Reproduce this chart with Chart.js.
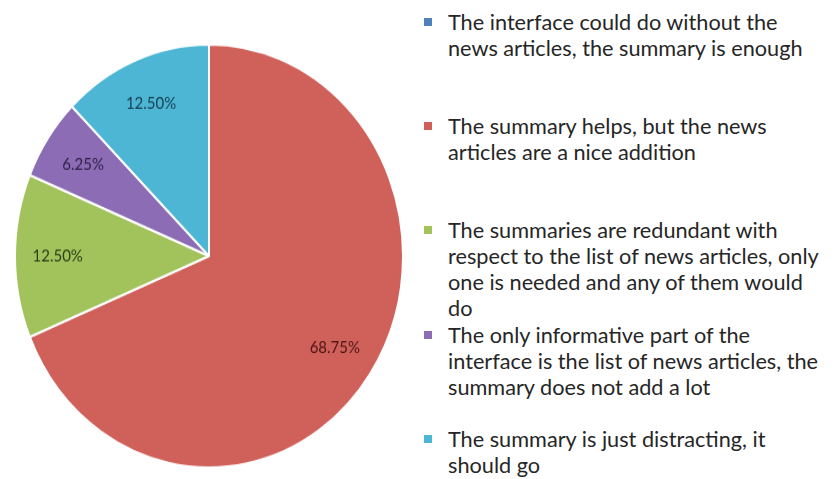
<!DOCTYPE html>
<html>
<head>
<meta charset="utf-8">
<script src="https://cdn.jsdelivr.net/npm/chart.js@4"></script>
<style>
  body { margin: 0; background: #fff; width: 835px; height: 479px; overflow: hidden; position: relative; font-family: Lato, sans-serif; }
  /* the reference picture is a bit stretched vertically, so the pie is too */
  #pieBox { position: absolute; left: 0; top: 61px; width: 418px; height: 390px; transform: scaleY(1.09); transform-origin: 50% 50%; }
  .legItem { position: absolute; left: 448px; width: 387px; font-size: 21.7px; line-height: 26px; color: #262626; white-space: pre-line; }
  .legItem .mk { position: absolute; left: -24px; top: 9px; width: 8px; height: 8px; }
</style>
</head>
<body>
<div id="pieBox"><canvas id="pie"></canvas></div>
<div id="legend"></div>
<script>
const categories = [
  "The interface could do without the\nnews articles, the summary is enough",
  "The summary helps, but the news\narticles are a nice addition",
  "The summaries are redundant with\nrespect to the list of news articles, only\none is needed and any of them would\ndo",
  "The only informative part of the\ninterface is the list of news articles, the\nsummary does not add a lot",
  "The summary is just distracting, it\nshould go"
];
const percentages = [0, 68.75, 12.5, 6.25, 12.5];
const sliceColors = ["#4F81BD", "#D0605A", "#A2C35C", "#8B6CB5", "#4CB6D4"];
const labelColors = ["#1f3350", "#4a1512", "#2c3e14", "#2f2248", "#153f50"];

// legend, Excel style: entries spaced evenly, text allowed to overflow
const legend = document.getElementById("legend");
categories.forEach((c, i) => {
  const d = document.createElement("div");
  d.className = "legItem";
  d.style.top = (9 + i * 104.2) + "px";
  const mk = document.createElement("span");
  mk.className = "mk";
  mk.style.background = sliceColors[i];
  d.appendChild(mk);
  d.appendChild(document.createTextNode(c));
  legend.appendChild(d);
});

// draws the percentage inside each slice
const sliceLabels = {
  id: "sliceLabels",
  afterDatasetsDraw(chart) {
    const ctx = chart.ctx;
    const arcs = chart.getDatasetMeta(0).data;
    ctx.save();
    ctx.font = "15px Lato";
    ctx.textAlign = "center";
    ctx.textBaseline = "middle";
    arcs.forEach((arc, i) => {
      if (!percentages[i]) return;
      const mid = (arc.startAngle + arc.endAngle) / 2;
      const r = arc.outerRadius * 0.78;
      ctx.fillStyle = labelColors[i];
      ctx.fillText(percentages[i].toFixed(2) + "%", arc.x + Math.cos(mid) * r, arc.y + Math.sin(mid) * r);
    });
    ctx.restore();
  }
};

new Chart(document.getElementById("pie"), {
  type: "pie",
  data: {
    labels: categories,
    datasets: [{
      data: percentages,
      backgroundColor: sliceColors,
      borderColor: "#fff",
      borderWidth: 2
    }]
  },
  options: {
    responsive: true,
    maintainAspectRatio: false,
    animation: false,
    radius: 194,
    plugins: {
      legend: { display: false },
      tooltip: { enabled: false }
    }
  },
  plugins: [sliceLabels]
});
</script>
</body>
</html>
